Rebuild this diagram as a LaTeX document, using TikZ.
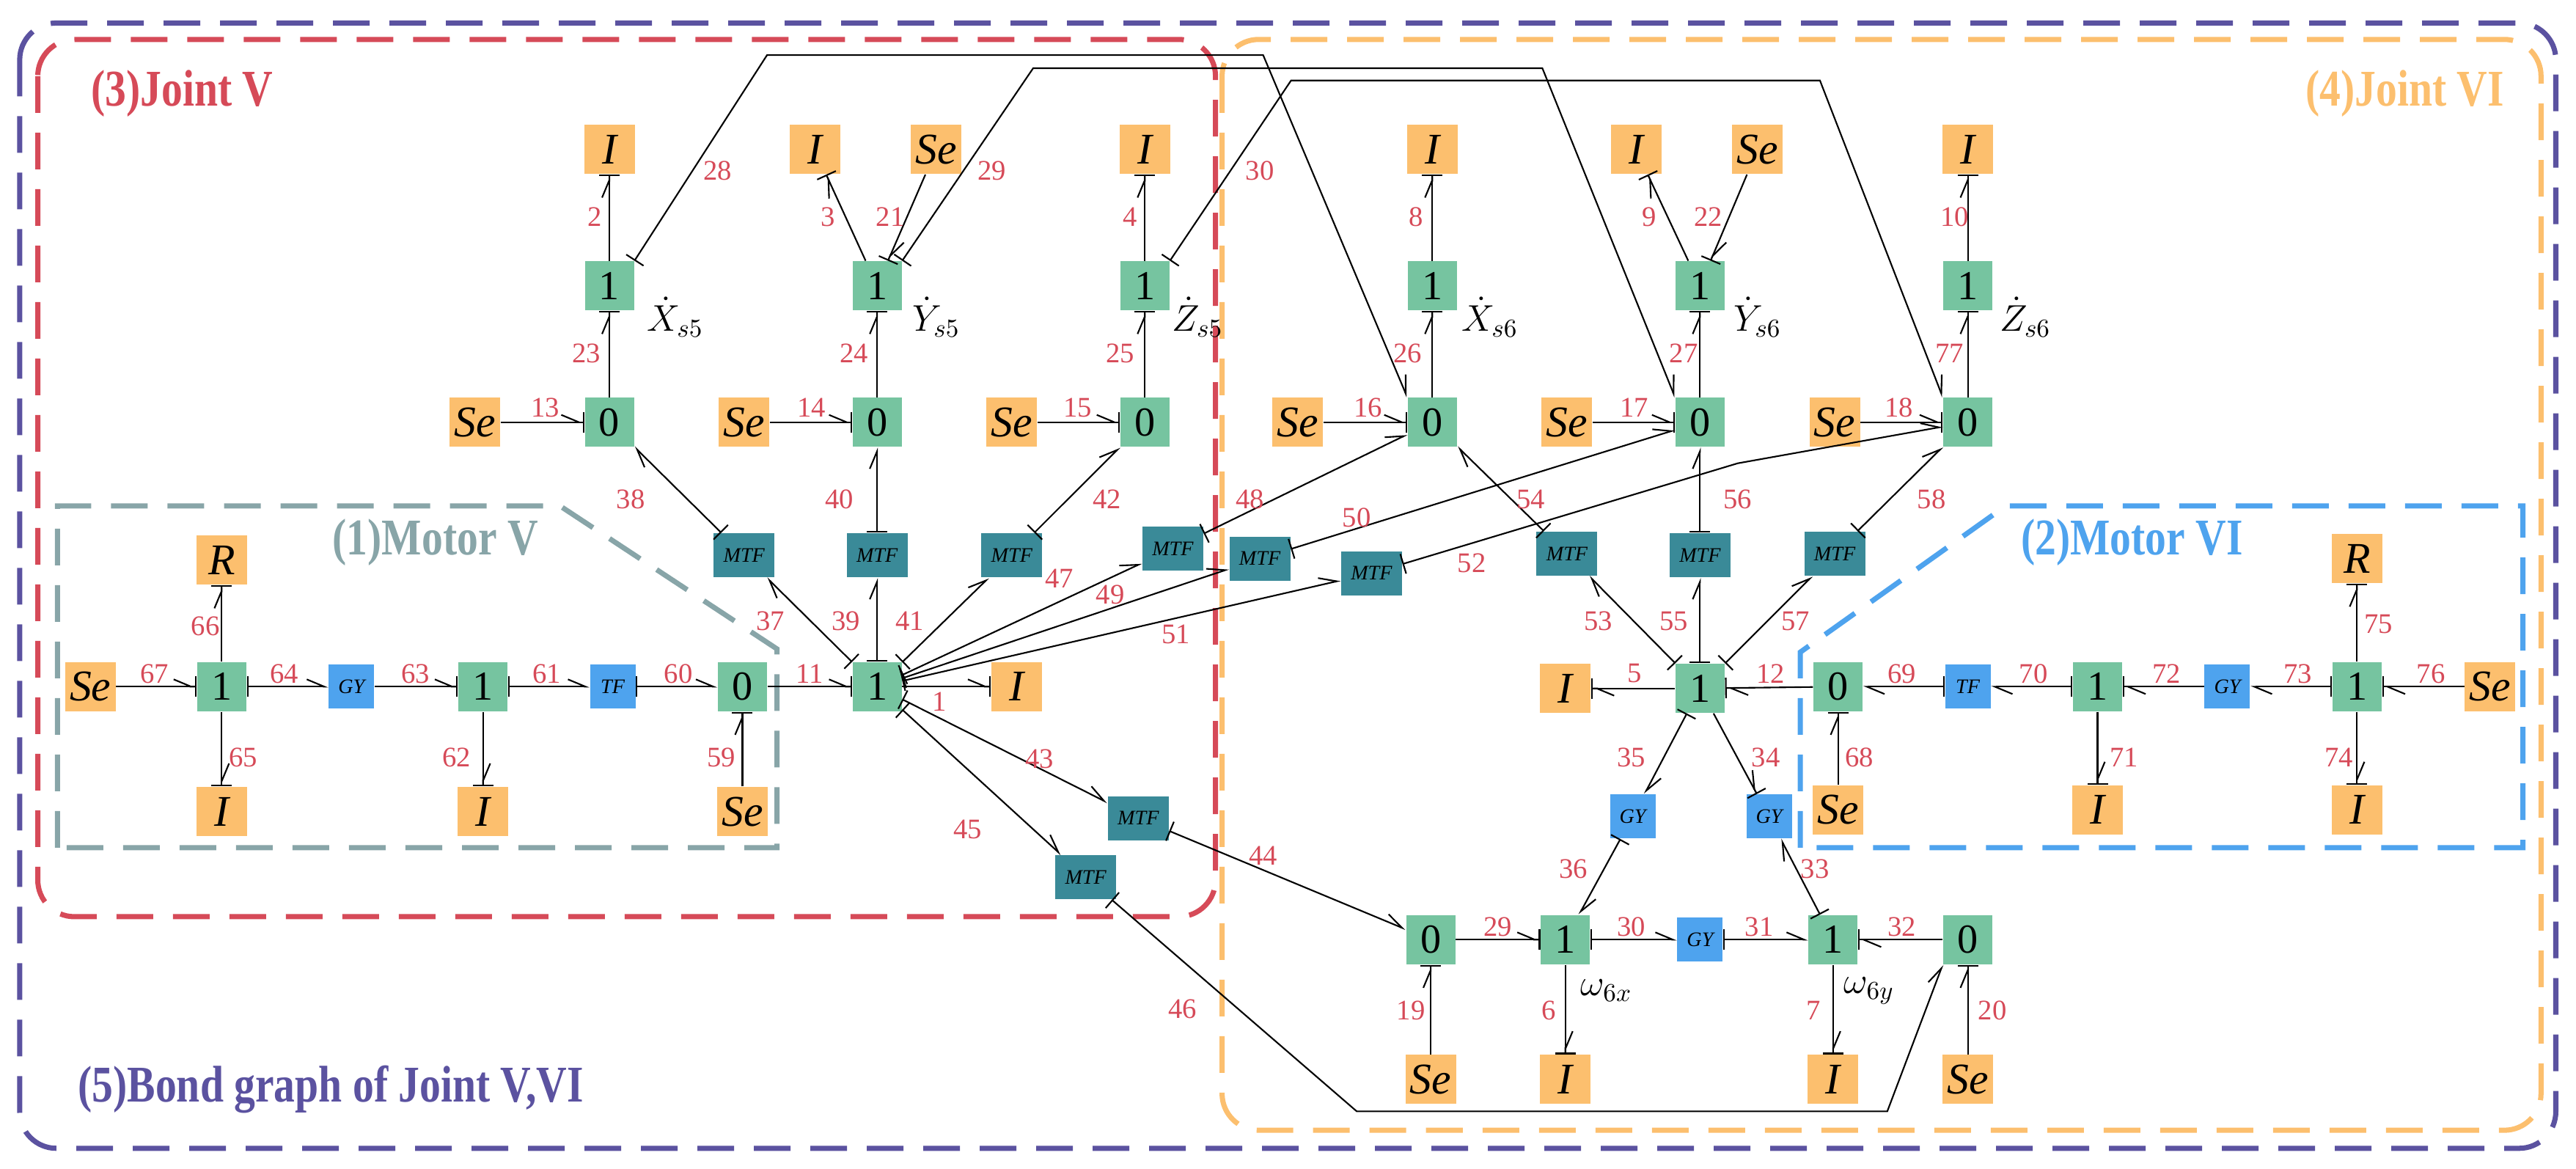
\documentclass[tikz,border=0pt]{standalone}
\usepackage{fontspec}
\setmainfont{Liberation Serif}
\usetikzlibrary{arrows.meta}
\definecolor{cgreen}{HTML}{76C4A0}
\definecolor{corange}{HTML}{FCBF6E}
\definecolor{cteal}{HTML}{3A8A98}
\definecolor{cblue}{HTML}{4EA3EE}
\definecolor{cred}{HTML}{D64A58}
\definecolor{cgrey}{HTML}{88A5A8}
\definecolor{cpurple}{HTML}{5B52A0}
\newcommand{\narrow}[1]{\scalebox{0.82}[1]{#1}}
\tikzset{
  jn/.style={fill=cgreen,minimum width=0.67cm,minimum height=0.67cm,inner sep=0pt,font=\fontsize{16}{16}\selectfont},
  el/.style={fill=corange,minimum width=0.69cm,minimum height=0.67cm,inner sep=0pt,font=\fontsize{17}{17}\selectfont\itshape},
  mtf/.style={fill=cteal,minimum width=0.83cm,minimum height=0.6cm,inner sep=0pt,font=\fontsize{8}{8}\selectfont\itshape},
  gy/.style={fill=cblue,minimum width=0.62cm,minimum height=0.6cm,inner sep=0pt,font=\fontsize{8}{8}\selectfont\itshape},
  lab/.style={text=cred,font=\fontsize{11}{11}\selectfont},
  var/.style={font=\fontsize{14}{14}\selectfont,inner sep=1pt},
  bh/.style={-{Straight Barb[left,length=2.4mm,width=2mm,sep=0pt]Bar[width=2.8mm]},line width=0.6pt},
  bt/.style={{Bar[width=2.8mm]}-{Straight Barb[left,length=2.4mm,width=2mm]},line width=0.6pt},
  frame/.style={dash pattern=on 0.5cm off 0.27cm,line width=2pt,rounded corners=0.5cm},
  title/.style={font=\fontsize{20}{20}\selectfont\bfseries}
}
\begin{document}
\begin{tikzpicture}[x=0.0224cm,y=-0.0224cm]
  \useasboundingbox (0,0) rectangle (1568.3,711.2);
  % frames
  \draw[frame,cpurple] (12,14) rectangle (1556,699);
  \draw[frame,cred] (23,24) rectangle (740,558);
  \draw[frame,corange] (744,24) rectangle (1547,688);
  \draw[frame,cgrey,rounded corners=0pt] (35,516) -- (35,308) -- (341,308) -- (473,395) -- (473,516) -- cycle;
  \draw[frame,cblue,rounded corners=0pt] (1096,516) -- (1096,397) -- (1221,308) -- (1536,308) -- (1536,516) -- cycle;
  \node[title,text=cred,anchor=west] (tV) at (50,57) {\narrow{(3)Joint V}};
  \node[title,text=corange,anchor=east] (tVI) at (1530,57) {\narrow{(4)Joint VI}};
  \node[title,text=cgrey] (tmV) at (265,330) {\narrow{(1)Motor V}};
  \node[title,text=cblue] (tmVI) at (1298,330) {\narrow{(2)Motor VI}};
  \node[title,text=cpurple,anchor=west] (tall) at (42,663) {\narrow{(5)Bond graph of Joint V,VI}};

  % motor V
  \node[el] (seA) at (55,418) {Se};
  \node[jn] (oneA) at (135,418) {1};
  \node[el] (rA) at (135,341) {R};
  \node[el] (iA) at (135,494) {I};
  \node[gy] (gyA) at (214,418) {GY};
  \node[jn] (oneB) at (294,418) {1};
  \node[el] (iB) at (294,494) {I};
  \node[gy] (tfA) at (373,418) {TF};
  \node[jn] (zA) at (452,418) {0};
  \node[el] (seB) at (452,494) {Se};
  \node[jn] (hub) at (534,418) {1};
  \node[el] (iH) at (619,418) {I};

  % joint V
  \node[jn] (zX5) at (371,257) {0};
  \node[jn] (oX5) at (371,174) {1};
  \node[el] (iX5) at (371,91) {I};
  \node[el] (seX5) at (289,257) {Se};
  \node[jn] (zY5) at (534,257) {0};
  \node[jn] (oY5) at (534,174) {1};
  \node[el] (iY5) at (496,91) {I};
  \node[el] (sY5) at (570,91) {Se};
  \node[el] (seY5) at (453,257) {Se};
  \node[jn] (zZ5) at (697,257) {0};
  \node[jn] (oZ5) at (697,174) {1};
  \node[el] (iZ5) at (697,91) {I};
  \node[el] (seZ5) at (616,257) {Se};
  \node[var] (vX5) at (411,193) {$\dot{X}_{s5}$};
  \node[var] (vY5) at (570,193) {$\dot{Y}_{s5}$};
  \node[var] (vZ5) at (729,193) {$\dot{Z}_{s5}$};
  \node[mtf] (m37) at (453,338) {MTF};
  \node[mtf] (m39) at (534,338) {MTF};
  \node[mtf] (m41) at (616,338) {MTF};
  \node[mtf] (m47) at (714,334) {MTF};
  \node[mtf] (m49) at (767,340) {MTF};
  \node[mtf] (m51) at (835,349) {MTF};
  \node[mtf] (m43) at (693,498) {MTF};
  \node[mtf] (m45) at (661,534) {MTF};

  % joint VI
  \node[jn] (zX6) at (872,257) {0};
  \node[jn] (oX6) at (872,174) {1};
  \node[el] (iX6) at (872,91) {I};
  \node[el] (seX6) at (790,257) {Se};
  \node[jn] (zY6) at (1035,257) {0};
  \node[jn] (oY6) at (1035,174) {1};
  \node[el] (iY6) at (996,91) {I};
  \node[el] (sY6) at (1070,91) {Se};
  \node[el] (seY6) at (954,257) {Se};
  \node[jn] (zZ6) at (1198,257) {0};
  \node[jn] (oZ6) at (1198,174) {1};
  \node[el] (iZ6) at (1198,91) {I};
  \node[el] (seZ6) at (1117,257) {Se};
  \node[var] (vX6) at (907,193) {$\dot{X}_{s6}$};
  \node[var] (vY6) at (1070,193) {$\dot{Y}_{s6}$};
  \node[var] (vZ6) at (1233,193) {$\dot{Z}_{s6}$};
  \node[mtf] (m53) at (954,337) {MTF};
  \node[mtf] (m55) at (1035,338) {MTF};
  \node[mtf] (m57) at (1117,337) {MTF};
  \node[jn] (hubR) at (1035,419) {1};
  \node[el] (iR) at (953,419) {I};
  \node[gy] (gy35) at (994,497) {GY};
  \node[gy] (gy34) at (1077,497) {GY};

  % motor VI
  \node[jn] (zM) at (1119,418) {0};
  \node[el] (seM) at (1119,493) {Se};
  \node[gy] (tfB) at (1198,418) {TF};
  \node[jn] (oneC) at (1277,418) {1};
  \node[el] (iC) at (1277,493) {I};
  \node[gy] (gyB) at (1356,418) {GY};
  \node[jn] (oneD) at (1435,418) {1};
  \node[el] (rB) at (1435,340) {R};
  \node[el] (iD) at (1435,493) {I};
  \node[el] (seD) at (1516,418) {Se};

  % wrist rates
  \node[jn] (zB1) at (871,572) {0};
  \node[el] (seB1) at (871,657) {Se};
  \node[jn] (oBx) at (953,572) {1};
  \node[el] (iBx) at (953,657) {I};
  \node[gy] (gyC) at (1035,572) {GY};
  \node[jn] (oBy) at (1116,572) {1};
  \node[el] (iBy) at (1116,657) {I};
  \node[jn] (zB2) at (1198,572) {0};
  \node[el] (seB2) at (1198,657) {Se};
  \node[var] (wx) at (978,603) {$\omega_{6x}$};
  \node[var] (wy) at (1138,603) {$\omega_{6y}$};

  % bonds, motor V
  \draw[bh] (seA) -- (oneA) node[lab] at (94,410) {67};
  \draw[bh] (oneA) -- (rA) node[lab] at (125,381) {66};
  \draw[bh] (oneA) -- (iA) node[lab] at (148,461) {65};
  \draw[bt] (oneA) -- (gyA) node[lab] at (173,410) {64};
  \draw[bh] (gyA) -- (oneB) node[lab] at (253,410) {63};
  \draw[bh] (oneB) -- (iB) node[lab] at (278,461) {62};
  \draw[bt] (oneB) -- (tfA) node[lab] at (333,410) {61};
  \draw[bt] (tfA) -- (zA) node[lab] at (413,410) {60};
  \draw[bh] (seB) -- (zA) node[lab] at (439,461) {59};
  \draw[bh] (zA) -- (hub) node[lab] at (493,410) {11};
  \draw[bh] (hub) -- (iH) node[lab] at (572,427) {1};

  % bonds, joint V
  \draw[bh] (oX5) -- (iX5) node[lab] at (362,132) {2};
  \draw[bh] (oY5) -- (iY5) node[lab] at (504,132) {3};
  \draw[bh] (sY5) -- (oY5) node[lab] at (542,132) {21};
  \draw[bh] (oZ5) -- (iZ5) node[lab] at (688,132) {4};
  \draw[bh] (zX5) -- (oX5) node[lab] at (357,215) {23};
  \draw[bh] (zY5) -- (oY5) node[lab] at (520,215) {24};
  \draw[bh] (zZ5) -- (oZ5) node[lab] at (682,215) {25};
  \draw[bh] (seX5) -- (zX5) node[lab] at (332,248) {13};
  \draw[bh] (seY5) -- (zY5) node[lab] at (494,248) {14};
  \draw[bh] (seZ5) -- (zZ5) node[lab] at (656,248) {15};
  \draw[bt] (m37) -- (zX5) node[lab] at (384,304) {38};
  \draw[bt] (m39) -- (zY5) node[lab] at (511,304) {40};
  \draw[bt] (m41) -- (zZ5) node[lab] at (674,304) {42};
  \draw[bt] (hub) -- (m37) node[lab] at (469,378) {37};
  \draw[bt] (hub) -- (m39) node[lab] at (515,378) {39};
  \draw[bt] (hub) -- (m41) node[lab] at (554,378) {41};
  \draw[bt] (hub) -- (m47) node[lab] at (645,352) {47};
  \draw[bt] (hub) -- (m49) node[lab] at (676,362) {49};
  \draw[bt] (hub) -- (m51) node[lab] at (716,386) {51};
  \draw[bt] (hub) -- (m43) node[lab] at (633,462) {43};
  \draw[bt] (hub) -- (m45) node[lab] at (589,505) {45};
  \draw[bt] (m47) -- (zX6) node[lab] at (761,304) {48};
  \draw[bt] (m49) -- (zY6) node[lab] at (826,315) {50};
  \draw[bt] (m51) -- (1058,282) -- (zZ6) node[lab] at (896,343) {52};
  \draw[bt] (m43) -- (zB1) node[lab] at (769,521) {44};
  \draw[bt] (m45) -- (826,676.5) -- (1149,676.5) -- (zB2.south west) node[lab] at (720,614) {46};
  \draw[bt] (oX5.north east) -- (467,33.5) -- (769,33.5) -- (zX6.north west) node[lab] at (437,104) {28};
  \draw[bt] (oY5.north east) -- (629,41.5) -- (939,41.5) -- (zY6.north west) node[lab] at (604,104) {29};
  \draw[bt] (oZ5.north east) -- (786,49) -- (1108,49) -- (zZ6.north west) node[lab] at (767,104) {30};

  % bonds, joint VI
  \draw[bh] (oX6) -- (iX6) node[lab] at (862,132) {8};
  \draw[bh] (oY6) -- (iY6) node[lab] at (1004,132) {9};
  \draw[bh] (sY6) -- (oY6) node[lab] at (1040,132) {22};
  \draw[bh] (oZ6) -- (iZ6) node[lab] at (1190,132) {10};
  \draw[bh] (zX6) -- (oX6) node[lab] at (857,215) {26};
  \draw[bh] (zY6) -- (oY6) node[lab] at (1025,215) {27};
  \draw[bh] (zZ6) -- (oZ6) node[lab] at (1187,215) {77};
  \draw[bh] (seX6) -- (zX6) node[lab] at (833,248) {16};
  \draw[bh] (seY6) -- (zY6) node[lab] at (995,248) {17};
  \draw[bh] (seZ6) -- (zZ6) node[lab] at (1156,248) {18};
  \draw[bt] (m53) -- (zX6) node[lab] at (932,304) {54};
  \draw[bt] (m55) -- (zY6) node[lab] at (1058,304) {56};
  \draw[bt] (m57) -- (zZ6) node[lab] at (1176,304) {58};
  \draw[bt] (hubR) -- (m53) node[lab] at (973,378) {53};
  \draw[bt] (hubR) -- (m55) node[lab] at (1019,378) {55};
  \draw[bt] (hubR) -- (m57) node[lab] at (1093,378) {57};
  \draw[bh] (hubR) -- (iR) node[lab] at (995,410) {5};
  \draw[bh] (zM) -- (hubR) node[lab] at (1078,410) {12};
  \draw[bt] (hubR) -- (gy35) node[lab] at (993,461) {35};
  \draw[bh] (hubR) -- (gy34) node[lab] at (1075,461) {34};
  \draw[bt] (gy35) -- (oBx) node[lab] at (958,529) {36};
  \draw[bt] (oBy) -- (gy34) node[lab] at (1105,529) {33};

  % bonds, motor VI
  \draw[bt] (tfB) -- (zM) node[lab] at (1158,410) {69};
  \draw[bt] (oneC) -- (tfB) node[lab] at (1238,410) {70};
  \draw[bh] (gyB) -- (oneC) node[lab] at (1319,410) {72};
  \draw[bt] (oneD) -- (gyB) node[lab] at (1399,410) {73};
  \draw[bh] (seD) -- (oneD) node[lab] at (1480,410) {76};
  \draw[bh] (oneD) -- (rB) node[lab] at (1448,380) {75};
  \draw[bh] (oneD) -- (iD) node[lab] at (1424,461) {74};
  \draw[bh] (oneC) -- (iC) node[lab] at (1293,461) {71};
  \draw[bh] (seM) -- (zM) node[lab] at (1132,461) {68};

  % bonds, wrist rates
  \draw[bh] (zB1) -- (oBx) node[lab] at (912,564) {29};
  \draw[bt] (oBx) -- (gyC) node[lab] at (993,564) {30};
  \draw[bt] (gyC) -- (oBy) node[lab] at (1071,564) {31};
  \draw[bh] (zB2) -- (oBy) node[lab] at (1158,564) {32};
  \draw[bh] (seB1) -- (zB1) node[lab] at (859,615) {19};
  \draw[bh] (seB2) -- (zB2) node[lab] at (1213,615) {20};
  \draw[bh] (oBx) -- (iBx) node[lab] at (943,615) {6};
  \draw[bh] (oBy) -- (iBy) node[lab] at (1104,615) {7};
\end{tikzpicture}
\end{document}
